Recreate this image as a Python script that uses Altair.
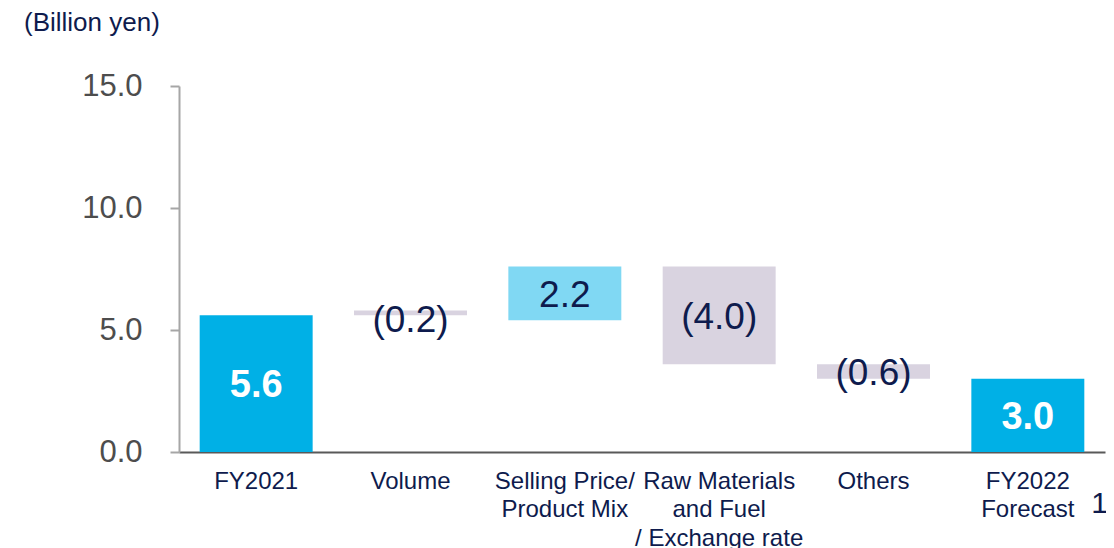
import altair as alt
import pandas as pd

categories = ["FY2021", "Volume", "Selling Price/|Product Mix",
              "Raw Materials|and Fuel|/ Exchange rate", "Others", "FY2022|Forecast"]
changes = [5.6, -0.2, 2.2, -4.0, -0.6, 3.0]
bar_low = [0.0, 5.6, 5.4, 3.6, 3.0, 0.0]
bar_high = [5.6, 5.8, 7.6, 7.6, 3.6, 3.0]
labels = ["5.6", "(0.2)", "2.2", "(4.0)", "(0.6)", "3.0"]
kinds = ["total", "neg", "pos", "neg", "neg", "total"]
y_ticks = [0, 5, 10, 15]

NAVY = "#0E1B4D"
kind_domain = ["total", "pos", "neg"]
kind_colors = ["#00B0E6", "#80D8F3", "#D9D3E0"]

# label anchor: middle of each step of the waterfall
label_mid = []
running = 0.0
for k, v in zip(kinds, changes):
    if k == "total":
        label_mid.append(v / 2)
        running = v
    else:
        label_mid.append(running + v / 2)
        running += v

df = pd.DataFrame({
    "cat": categories,
    "low": bar_low,
    "high": bar_high,
    "label": labels,
    "kind": kinds,
    "mid": label_mid,
})

x_enc = alt.X(
    "cat:N",
    sort=None,
    scale=alt.Scale(paddingInner=0.268, paddingOuter=0.134),
    axis=alt.Axis(
        title=None,
        labelAngle=0,
        labelExpr="split(datum.label, '|')",
        labelFontSize=24,
        labelFont="Liberation Sans",
        labelColor=NAVY,
        labelLineHeight=28.5,
        labelPadding=17,
        ticks=False,
        tickSize=0,
        domainColor="#595959",
        domainWidth=2,
        labelAlign="center",
        labelBaseline="top",
    ),
)

y_scale = alt.Scale(domain=[0, 15], nice=False)

base = alt.Chart(df)

bars = base.mark_bar().encode(
    x=x_enc,
    y=alt.Y(
        "low:Q",
        scale=y_scale,
        axis=alt.Axis(
            title=None,
            values=y_ticks,
            format=".1f",
            labelFontSize=31,
            labelFont="Liberation Sans",
            labelColor="#4D4D4D",
            labelPadding=28,
            tickSize=9,
            tickWidth=2,
            tickColor="#A6A6A6",
            domainColor="#A6A6A6",
            domainWidth=2,
            grid=False,
        ),
    ),
    y2="high:Q",
    color=alt.Color("kind:N", scale=alt.Scale(domain=kind_domain, range=kind_colors), legend=None),
)

text_total = base.transform_filter("datum.kind == 'total'").mark_text(
    font="Liberation Sans", fontSize=38, fontWeight="bold", color="white",
    baseline="middle", dy=2.5,
).encode(x=alt.X("cat:N", sort=None), y=alt.Y("mid:Q", scale=y_scale), text="label:N")

text_other = base.transform_filter("datum.kind != 'total'").mark_text(
    font="Liberation Sans", fontSize=37, color=NAVY,
    baseline="middle", dy=3,
).encode(x=alt.X("cat:N", sort=None), y=alt.Y("mid:Q", scale=y_scale), text="label:N")

unit = alt.Chart(pd.DataFrame({"t": ["(Billion yen)"]})).mark_text(
    font="Liberation Sans", fontSize=26, color=NAVY, align="left", baseline="middle",
).encode(x=alt.value(-155), y=alt.value(-63), text="t:N")

page = alt.Chart(pd.DataFrame({"t": ["1"]})).mark_text(
    font="Liberation Sans", fontSize=30, color=NAVY, align="right", baseline="middle",
).encode(x=alt.value(929), y=alt.value(418), text="t:N")

chart = alt.layer(bars, text_total, text_other, unit, page).properties(
    width=926,
    height=366,
    autosize=alt.AutoSizeParams(type="none"),
    padding={"left": 171, "top": 78, "right": 1, "bottom": 96},
).configure_view(stroke=None)

chart.save("out.html", embed_options={"renderer": "svg", "actions": False})
